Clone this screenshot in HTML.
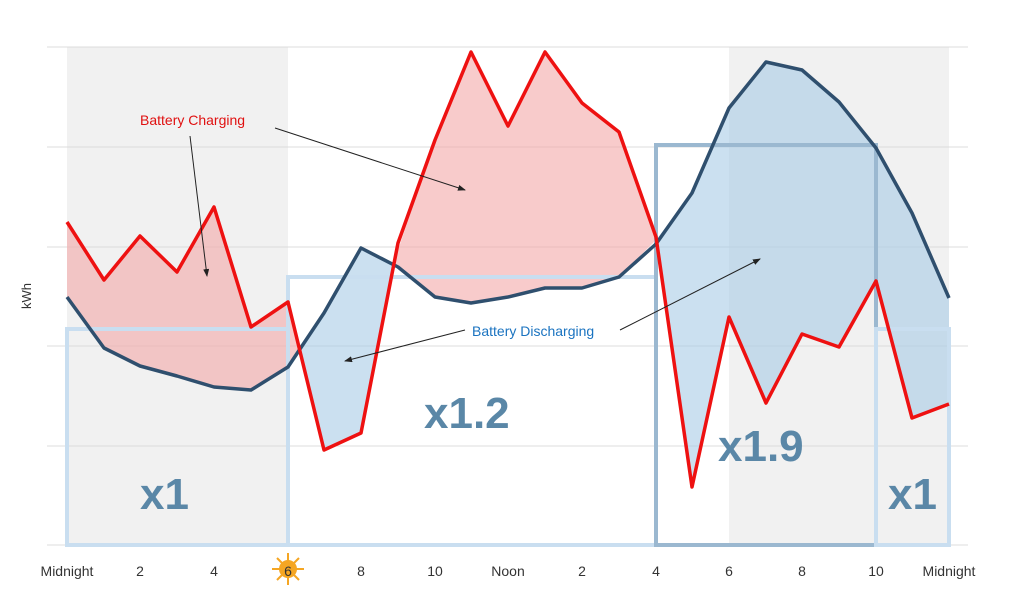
<!DOCTYPE html>
<html><head><meta charset="utf-8"><style>
body{margin:0;background:#fff;}
svg{display:block;font-family:"Liberation Sans",sans-serif;}
</style></head><body>
<svg width="1024" height="607" viewBox="0 0 1024 607" xmlns="http://www.w3.org/2000/svg">
<defs><marker id="ah" markerWidth="8" markerHeight="6" refX="7" refY="3" orient="auto"><path d="M0,0 L8,3 L0,6 z" fill="#222"/></marker></defs>
<rect x="67" y="47" width="221" height="498" fill="#f1f1f1"/>
<rect x="729" y="47" width="220" height="498" fill="#f1f1f1"/>
<g stroke="#dcdcdc" stroke-width="1">
<line x1="47" y1="47" x2="968" y2="47"/><line x1="47" y1="147" x2="968" y2="147"/>
<line x1="47" y1="247" x2="968" y2="247"/><line x1="47" y1="346" x2="968" y2="346"/>
<line x1="47" y1="446" x2="968" y2="446"/><line x1="47" y1="545" x2="968" y2="545"/>
</g>
<!-- fills -->
<polygon fill="#f4a8a8" fill-opacity="0.6" points="67,222 104,280 140,236 177,272 214,207 251,327 288,302 300,349 288,367 251,390 214,387 177,376 140,366 104,348 67,297"/>
<polygon fill="#a9cce6" fill-opacity="0.6" points="300,349 324,450 361,433 393,265 361,248 324,313"/>
<polygon fill="#f4a8a8" fill-opacity="0.6" points="393,265 435,140 471,52 508,126 545,52 582,103 619,132 656,240 619,277 582,288 545,288 508,297 471,303 435,297 398,267"/>
<polygon fill="#a9cce6" fill-opacity="0.6" points="656,240 692,487 729,317 766,403 802,334 839,347 876,281 912,418 949,404 949,298 912,213 876,148 839,102 802,70 766,62 729,108 692,193"/>
<!-- rate boxes -->
<g fill="none" stroke-width="4">
<rect x="67" y="329" width="221" height="216" stroke="#c9def0"/>
<rect x="288" y="277" width="368" height="268" stroke="#c9def0"/>
<rect x="656" y="145" width="220" height="400" stroke="#9bb8d0"/>
<rect x="876" y="329" width="73" height="216" stroke="#c9def0"/>
</g>
<g fill="#5a87a7" font-weight="bold" font-size="44">
<text x="140" y="509">x1</text>
<text x="424" y="428">x1.2</text>
<text x="718" y="461">x1.9</text>
<text x="888" y="509">x1</text>
</g>
<polyline fill="none" stroke="#2f4f6e" stroke-width="3.5" stroke-linejoin="round" points="67,297 104,348 140,366 177,376 214,387 251,390 288,367 324,313 361,248 398,267 435,297 471,303 508,297 545,288 582,288 619,277 656,244 692,193 729,108 766,62 802,70 839,102 876,148 912,213 949,298"/>
<polyline fill="none" stroke="#ee1111" stroke-width="3.5" stroke-linejoin="round" points="67,222 104,280 140,236 177,272 214,207 251,327 288,302 324,450 361,433 398,243 435,140 471,52 508,126 545,52 582,103 619,132 656,237 692,487 729,317 766,403 802,334 839,347 876,281 912,418 949,404"/>
<!-- annotations -->
<text x="140" y="125" fill="#e01010" font-size="14">Battery Charging</text>
<line x1="190" y1="136" x2="207" y2="276" stroke="#222" marker-end="url(#ah)"/>
<line x1="275" y1="128" x2="465" y2="190" stroke="#222" marker-end="url(#ah)"/>
<text x="472" y="336" fill="#1a73c0" font-size="14">Battery Discharging</text>
<line x1="465" y1="330" x2="345" y2="361" stroke="#222" marker-end="url(#ah)"/>
<line x1="620" y1="330" x2="760" y2="259" stroke="#222" marker-end="url(#ah)"/>
<text x="31" y="296" fill="#333" font-size="13" transform="rotate(-90 31 296)" text-anchor="middle">kWh</text>
<!-- icons -->
<g fill="#f5a623"><circle cx="288" cy="569" r="9"/>
<g stroke="#f5a623" stroke-width="2"><line x1="288" y1="553" x2="288" y2="585"/><line x1="272" y1="569" x2="304" y2="569"/><line x1="277" y1="558" x2="299" y2="580"/><line x1="277" y1="580" x2="299" y2="558"/></g></g>
<path d="M727,556 A13,13 0 1 0 742,580 A11,11 0 0 1 727,556 z" fill="#c6dcf0"/>
<g fill="#333" font-size="14" text-anchor="middle">
<text x="67" y="576">Midnight</text><text x="140" y="576">2</text><text x="214" y="576">4</text>
<text x="288" y="576">6</text><text x="361" y="576">8</text><text x="435" y="576">10</text>
<text x="508" y="576">Noon</text><text x="582" y="576">2</text><text x="656" y="576">4</text>
<text x="729" y="576">6</text><text x="802" y="576">8</text><text x="876" y="576">10</text>
<text x="949" y="576">Midnight</text></g>
</svg>
</body></html>
